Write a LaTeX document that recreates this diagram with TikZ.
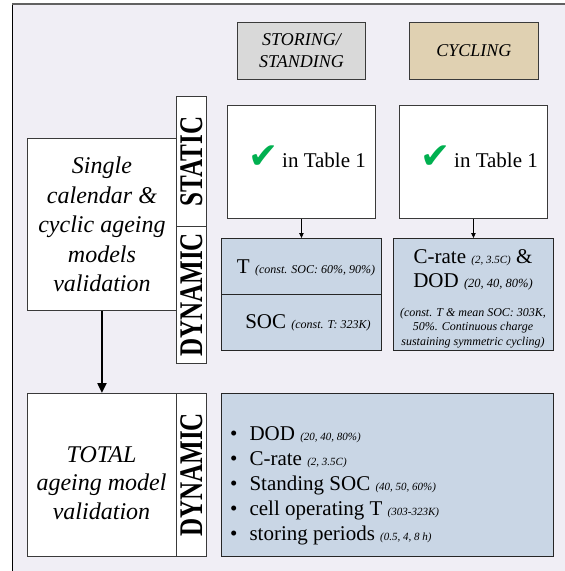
\documentclass[tikz,border=0pt]{standalone}
\usepackage{fontspec}
\setmainfont{Liberation Serif}
\newfontfamily\symfont{DejaVu Sans}
\usetikzlibrary{arrows.meta}
\definecolor{bgc}{HTML}{F0EEF5}
\definecolor{grayc}{HTML}{D9D9D9}
\definecolor{tanc}{HTML}{E0D1B2}
\definecolor{bluec}{HTML}{C9D6E5}
\definecolor{edgec}{HTML}{3A3A3A}
\definecolor{checkc}{HTML}{00B050}
\tikzset{
  box/.style={draw=edgec, line width=0.9pt, inner sep=0pt, anchor=north west},
  header/.style={box, font=\fontsize{18}{22}\selectfont\itshape, align=center},
  colbox/.style={box, fill=white, minimum width=30pt},
  rotlabel/.style={rotate=90, inner sep=0pt, font=\fontsize{33}{33}\selectfont\bfseries},
  bigtext/.style={box, fill=white, align=center, font=\fontsize{24}{29.5}\selectfont\itshape},
  bluebox/.style={box, fill=bluec, draw=black!85},
  txt/.style={inner sep=0pt, anchor=base},
  btxt/.style={inner sep=0pt, anchor=base west, font=\fontsize{21}{25}\selectfont},
  chk/.style={inner sep=0pt, anchor=base west, text=checkc, font=\symfont\fontsize{36}{36}\selectfont},
  thinarrow/.style={draw=black, line width=0.8pt, -{Triangle[length=5pt,width=4.5pt]}},
  thickarrow/.style={draw=black, line width=2pt, -{Triangle[length=10pt,width=9pt]}}
}
\newcommand{\bigf}{\fontsize{21}{25}\selectfont}
\newcommand{\smallit}{\fontsize{12}{14.5}\selectfont\itshape}
\newcommand{\tinyit}{\fontsize{11}{13}\selectfont\itshape}
\begin{document}
\begin{tikzpicture}[x=1pt,y=-1pt]
\useasboundingbox (0,0) rectangle (565,571);
\fill[bgc] (12,4) rectangle (565,571);
\draw[black, line width=0.9pt] (12,571) -- (12,4);
\draw[edgec!80, line width=1.2pt] (12,4) -- (565,4);

% headers
\node[header, fill=grayc, minimum width=128pt, minimum height=57pt] (stor) at (237,22) {STORING/\\STANDING};
\node[header, fill=tanc, minimum width=129pt, minimum height=57pt] (cyc) at (409,22) {CYCLING};

% left model box
\node[bigtext, minimum width=149pt, minimum height=172pt] (single) at (27,138) {Single\\calendar \&\\cyclic ageing\\models\\validation};

% label column upper
\node[colbox, minimum height=130pt] (colstat) at (176,96) {};
\node[colbox, minimum height=137pt] (coldyn) at (176,226) {};
\node[rotlabel] (lstat) at (colstat.center) {\scalebox{0.76}[1]{STATIC}};
\node[rotlabel] (ldyn) at (coldyn.center) {\scalebox{0.76}[1]{DYNAMIC}};

% static boxes
\node[box, fill=white, minimum width=148pt, minimum height=113pt] (tabS) at (227,105) {};
\node[box, fill=white, minimum width=148pt, minimum height=113pt] (tabC) at (399,105) {};
\node[chk] (chkS) at (248,168) {✔};
\node[txt, anchor=base west, font=\bigf] (inS) at (282,167) {in Table 1};
\node[chk] (chkC) at (420,168) {✔};
\node[txt, anchor=base west, font=\bigf] (inC) at (454,167) {in Table 1};

% dynamic boxes
\node[bluebox, minimum width=160pt, minimum height=56pt] (blT) at (221,238) {};
\node[bluebox, minimum width=160pt, minimum height=56pt] (blS) at (221,294) {};
\node[txt] (tT) at (306,273) {\bigf T {\smallit (const. SOC: 60\%, 90\%)}};
\node[txt] (tS) at (308,328) {\bigf SOC {\smallit (const. T: 323K)}};

\node[bluebox, minimum width=160pt, minimum height=112pt] (blC) at (393,238) {};
\node[txt] (c1) at (473,263) {\bigf C-rate {\tinyit (2, 3.5C)} \&};
\node[txt] (c2) at (473,287) {\bigf DOD {\fontsize{12.5}{14}\selectfont\itshape (20, 40, 80\%)}};
\node[inner sep=0pt, align=center, font=\smallit] (c3) at (473,328) {(const. T \& mean SOC: 303K,\\50\%. Continuous charge\\sustaining symmetric cycling)};

% total
\node[box, fill=white, minimum width=149pt, minimum height=163pt] (total) at (27,393) {};
\node[inner sep=0pt, align=center, font=\fontsize{24}{28.5}\selectfont\itshape] (totaltxt) at (101.5,483) {TOTAL\\ageing model\\validation};
\node[colbox, minimum height=163pt] (coltot) at (176,393) {};
\node[rotlabel] (ltot) at (coltot.center) {\scalebox{0.76}[1]{DYNAMIC}};

\node[bluebox, line width=1.1pt, minimum width=332pt, minimum height=163pt] (blTot) at (221,393) {};
\node[btxt] (b1) at (230,440) {•\hspace{12pt}DOD {\tinyit (20, 40, 80\%)}};
\node[btxt] (b2) at (230,465) {•\hspace{12pt}C-rate {\tinyit (2, 3.5C)}};
\node[btxt] (b3) at (230,490) {•\hspace{12pt}Standing SOC {\tinyit (40, 50, 60\%)}};
\node[btxt] (b4) at (230,515) {•\hspace{12pt}cell operating T {\tinyit (303-323K)}};
\node[btxt] (b5) at (230,540) {•\hspace{12pt}storing periods {\tinyit (0.5, 4, 8 h)}};

% arrows
\draw[thinarrow] (tabS.south) -- (blT.north);
\draw[thinarrow] (tabC.south) -- (blC.north);
\draw[thickarrow] (single.south) -- (total.north);
\end{tikzpicture}
\end{document}
